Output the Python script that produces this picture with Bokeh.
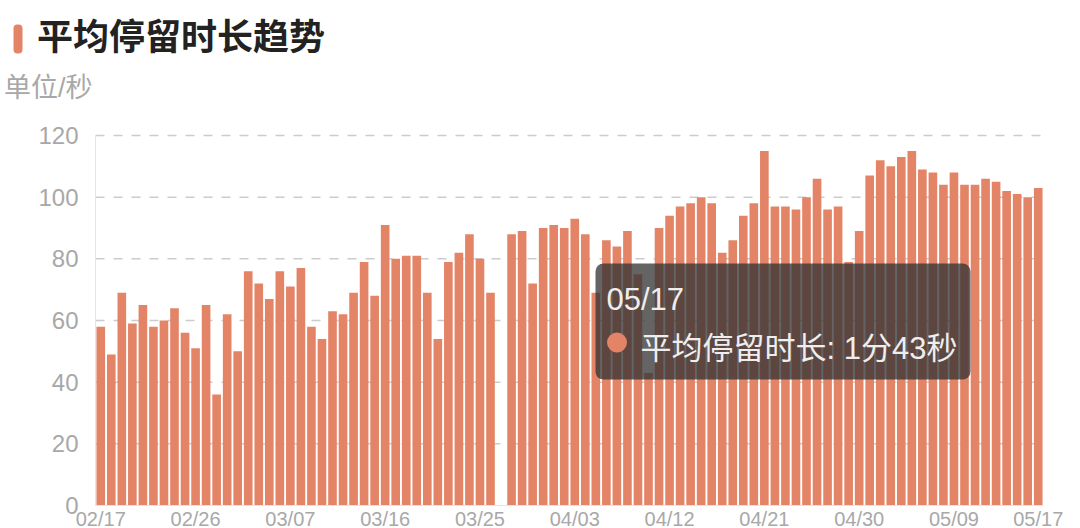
import pandas as pd
from bokeh.plotting import figure
from bokeh.models import Range1d, ColumnDataSource, Label, BoxAnnotation
from bokeh.core.properties import value
from bokeh.embed import file_html
from bokeh.resources import INLINE

# ---------------- data ----------------
dates = [d.strftime("%m/%d") for d in pd.date_range("2023-02-17", "2023-05-17", freq="D")]

avg_stay_sec = [
    58, 49, 69, 59, 65, 58, 60, 64, 56, 51,
    65, 36, 62, 50, 76, 72, 67, 76, 71, 77,
    58, 54, 63, 62, 69, 79, 68, 91, 80, 81,
    81, 69, 54, 79, 82, 88, 80, 69, float("nan"), 88,
    89, 72, 90, 91, 90, 93, 88, 69, 86, 84,
    89, 75, 43, 90, 94, 97, 98, 100, 98, 82,
    86, 94, 98, 115, 97, 97, 96, 100, 106, 96,
    97, 79, 89, 107, 112, 110, 113, 115, 109, 108,
    104, 108, 104, 104, 106, 105, 102, 101, 100, 103,
]

x_tick_index = [0, 9, 18, 27, 36, 45, 54, 63, 72, 81, 89]
x_tick_labels = [dates[i] for i in x_tick_index]
y_ticks = [0, 20, 40, 60, 80, 100, 120]
y_tick_labels = [str(t) for t in y_ticks]

title_text = "平均停留时长趋势"
unit_text = "单位/秒"
series_name = "平均停留时长"

# ---------------- layout / styles ----------------
W, H = 1080, 528
PLOT_L, PLOT_R, PLOT_T, PLOT_B = 95, 1043, 135, 505   # plotting area in canvas px
BAR = "#e38467"
GREY_TXT = "#a8a8a8"
AXIS_LINE = "#e0e6f1"
FONT = "Liberation Sans, Noto Sans CJK SC"

n = len(dates)
x_lo, x_hi = -0.5, n - 0.5
y_lo, y_hi = y_ticks[0], y_ticks[-1]
ppx = (PLOT_R - PLOT_L) / (x_hi - x_lo)
ppy = (PLOT_B - PLOT_T) / (y_hi - y_lo)

p = figure(width=W, height=H, output_backend="svg", toolbar_location=None,
           x_range=Range1d(x_lo - PLOT_L / ppx, x_hi + (W - PLOT_R) / ppx),
           y_range=Range1d(y_lo - (H - PLOT_B) / ppy, y_hi + PLOT_T / ppy),
           x_axis_type=None, y_axis_type=None, min_border=0, title=None)
p.outline_line_color = None
p.grid.grid_line_color = None

# dashed value grid
p.segment(x0=[x_lo] * (len(y_ticks) - 1), x1=[x_hi] * (len(y_ticks) - 1),
          y0=y_ticks[1:], y1=y_ticks[1:], line_color="#cccccc",
          line_width=1.5, line_dash="9 9")

# bars
src = ColumnDataSource(dict(x=list(range(n)), top=avg_stay_sec, date=dates))
p.vbar(x="x", top="top", width=0.82, source=src, fill_color=BAR, line_color=None)

# axis lines
p.segment(x0=[x_lo, x_lo], y0=[y_lo, y_lo], x1=[x_lo, x_hi], y1=[y_hi, y_lo],
          line_color=AXIS_LINE, line_width=1)

# y tick labels
p.text(x=[x_lo] * len(y_ticks), y=y_ticks, text=y_tick_labels, x_offset=-17,
       text_align="right", text_baseline="middle", text_font=value(FONT),
       text_font_size=value("24px"), text_color=GREY_TXT)
# x tick labels
p.text(x=x_tick_index, y=[y_lo] * len(x_tick_index), text=x_tick_labels, y_offset=2,
       text_align="center", text_baseline="top", text_font=value(FONT),
       text_font_size=value("20px"), text_color=GREY_TXT)

# helpers: screen units = px from canvas left / canvas bottom
def sy(py):
    return H - py

def sbox(l, r, t, b, **kw):
    return BoxAnnotation(left=l, right=r, top=sy(t), bottom=sy(b),
                         left_units="screen", right_units="screen",
                         top_units="screen", bottom_units="screen", **kw)

# title block
p.add_layout(sbox(13, 22, 24, 53, fill_color=BAR, fill_alpha=1, line_color=None,
                  border_radius=4))
p.add_layout(Label(x=36.5, y=sy(37), x_units="screen", y_units="screen", text=title_text,
                   text_font=FONT, text_font_size="36px", text_font_style="bold",
                   text_color="#222222", text_baseline="middle", text_align="left"))
p.add_layout(Label(x=3.5, y=sy(87), x_units="screen", y_units="screen", text=unit_text,
                   text_font=FONT, text_font_size="27px", text_color=GREY_TXT,
                   text_baseline="middle", text_align="left"))

# tooltip for the last day
last_i = n - 1
last_v = int(avg_stay_sec[last_i])
tip_value = f"{last_v // 60}分{last_v % 60}秒"
p.add_layout(sbox(595, 970, 263, 379, fill_color="#333333", fill_alpha=0.76,
                  line_color=None, border_radius=8, level="overlay"))
p.add_layout(sbox(606.5, 626.5, 332, 352, fill_color=BAR, fill_alpha=1,
                  line_color=None, border_radius=10, level="overlay"))
p.add_layout(Label(x=606, y=sy(299), x_units="screen", y_units="screen", text=dates[last_i],
                   text_font=FONT, text_font_size="31px", text_color="#eeeeee",
                   text_baseline="middle", text_align="left", level="overlay"))
p.add_layout(Label(x=640, y=sy(348), x_units="screen", y_units="screen",
                   text=f"{series_name}: {tip_value}",
                   text_font=FONT, text_font_size="31px", text_color="#eeeeee",
                   text_baseline="middle", text_align="left", level="overlay"))

open("out.html", "w").write(file_html(p, INLINE))
